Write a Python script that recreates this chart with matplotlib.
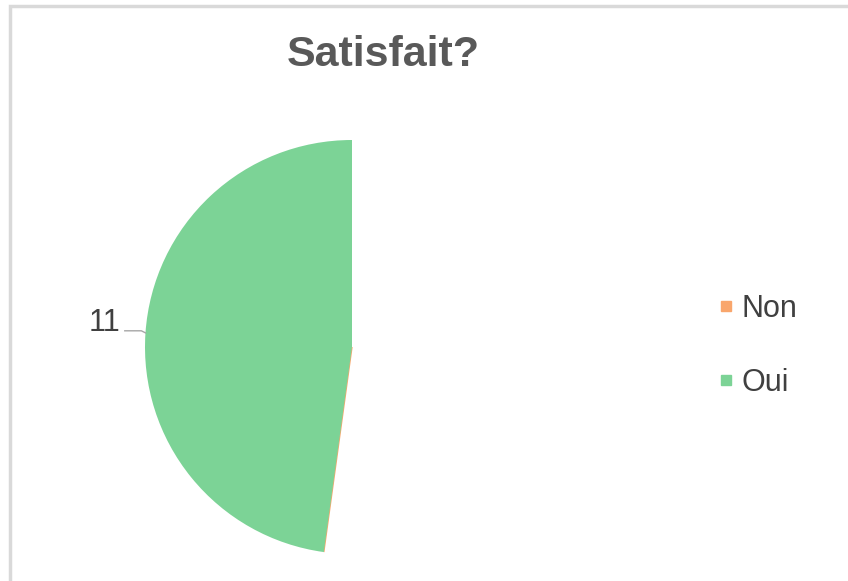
import matplotlib
matplotlib.use("Agg")
import matplotlib.pyplot as plt
from matplotlib.lines import Line2D
from matplotlib.patches import Rectangle
import numpy as np

plt.rcParams['font.family'] = ['Liberation Sans', 'DejaVu Sans']

title = "Satisfait?"
categories = ["Non", "Oui"]
values = [0, 11]
hidden_total = 12  # invisible remainder slice
colors = ["#F9A66C", "#7CD396"]

W, H, DPI = 848, 581, 100
fig = plt.figure(figsize=(W / DPI, H / DPI), dpi=DPI)
fig.patch.set_facecolor("white")

# chart frame
fig.add_artist(Rectangle((10 / W, -0.05), 1.2, (581 - 6) / H + 0.05, transform=fig.transFigure,
                         fill=False, edgecolor="#d9d9d9", linewidth=2.5))

cx, cy, r = 352, 581 - 347, 207
ax = fig.add_axes([(cx - r) / W, (cy - r) / H, 2 * r / W, 2 * r / H])

all_vals = [hidden_total] + values
all_cols = ["none"] + colors
wedges, _ = ax.pie(all_vals, colors=all_cols, startangle=90, counterclock=False,
                   radius=1.0, wedgeprops=dict(linewidth=0))
wedges[0].set_visible(False)
# Non wedge (zero-size) shows as thin orange edge
wedges[1].set_edgecolor(colors[0])
wedges[1].set_linewidth(1.0)
ax.set_xlim(-1, 1)
ax.set_ylim(-1, 1)
ax.set_aspect("equal")
ax.axis("off")

# data label for Oui
w = wedges[2]
mid = np.deg2rad((w.theta1 + w.theta2) / 2)
x0, y0 = np.cos(mid), np.sin(mid)
ax.plot([x0, x0 - 0.02, x0 - 0.1], [y0, y0 + 0.01, y0 + 0.01], color="#a6a6a6", lw=1, clip_on=False)
ax.text(x0 - 0.12, y0 + 0.05, str(values[1]), ha="right", va="center", fontsize=22,
        color="#404040", clip_on=False)

fig.text(383 / W, 1 - 55 / H, title, ha="center", va="center", fontsize=31,
         fontweight="bold", color="#595959")

handles = [Line2D([], [], marker="s", linestyle="none", markersize=7,
                  markerfacecolor=c, markeredgecolor=c) for c in colors]
fig.legend(handles, categories, loc="center left", bbox_to_anchor=(688 / W, 1 - 346 / H),
           frameon=False, fontsize=22, labelspacing=1.45, handletextpad=0.15,
           handlelength=0.7, labelcolor="#404040")

fig.savefig("out.png", dpi=DPI, facecolor="white")
